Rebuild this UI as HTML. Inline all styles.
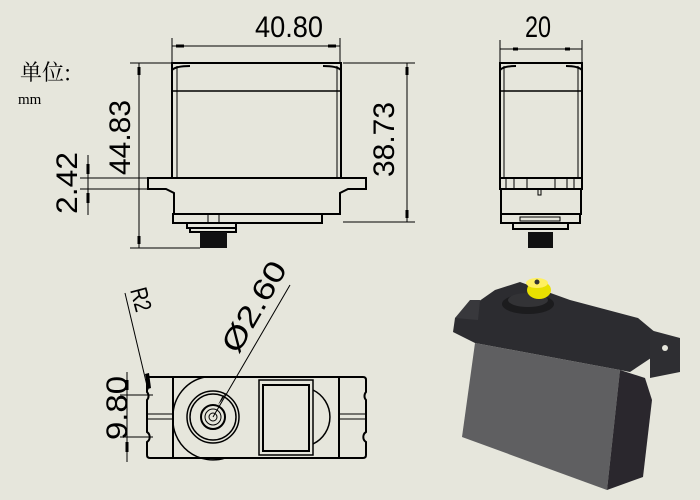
<!DOCTYPE html>
<html><head><meta charset="utf-8"><style>
html,body{margin:0;padding:0;background:#e6e6dc;}
svg{display:block}
text{font-family:"DejaVu Sans ExtraLight","Liberation Sans Narrow","Liberation Sans",sans-serif;font-weight:200;fill:#000}
</style></head><body>
<svg width="700" height="500" viewBox="0 0 700 500" xmlns="http://www.w3.org/2000/svg">
<rect width="700" height="500" fill="#e6e6dc"/>
<g stroke="#000" fill="none">
<!-- front view -->
<g stroke-width="2">
<rect x="172" y="63" width="169" height="115"/>
<line x1="172" y1="91" x2="341" y2="91" stroke-width="1.5"/>
<path d="M148 178 H366 V189 H348 L340 193 V214 H174 V193 L166 189 H148 Z"/>
<rect x="173" y="214" width="149" height="9"/>
<rect x="187" y="223" width="49" height="5"/>
<rect x="190" y="228" width="46" height="4"/>
</g>
<line x1="177" y1="66" x2="177" y2="178" stroke-width="1"/>
<line x1="337" y1="66" x2="337" y2="178" stroke-width="1"/>
<path d="M172 70 Q176 66 190 66 M341 70 Q337 66 323 66" stroke-width="2"/>
<line x1="208" y1="214" x2="208" y2="223"/><line x1="219" y1="214" x2="219" y2="223"/>
<rect x="200" y="232" width="27" height="16" fill="#111" stroke="none"/>
<g stroke-width="1">
<line x1="172" y1="38" x2="172" y2="63"/><line x1="340" y1="38" x2="340" y2="63"/>
<line x1="172" y1="46" x2="340" y2="46"/>
<line x1="343" y1="63" x2="415" y2="63"/><line x1="343" y1="222" x2="415" y2="222"/>
<line x1="407" y1="63" x2="407" y2="222"/>
<line x1="130" y1="63" x2="172" y2="63"/><line x1="130" y1="248" x2="200" y2="248"/>
<line x1="139" y1="63" x2="139" y2="248"/>
<line x1="80" y1="178" x2="148" y2="178"/><line x1="80" y1="189" x2="148" y2="189"/>
<line x1="88" y1="155" x2="88" y2="215"/>
</g>
<g fill="#000" stroke="none">
<rect x="176" y="44.5" width="8" height="3"/><rect x="328" y="44.5" width="8" height="3"/>
<rect x="405.5" y="67" width="3" height="8"/><rect x="405.5" y="210" width="3" height="8"/>
<rect x="137.5" y="67" width="3" height="8"/><rect x="137.5" y="236" width="3" height="8"/>
<rect x="86.5" y="164" width="3" height="10"/><rect x="86.5" y="193" width="3" height="10"/>
</g>
<!-- side view -->
<g stroke-width="2">
<rect x="500" y="63" width="82" height="115"/>
<line x1="500" y1="91" x2="582" y2="91" stroke-width="1.5"/>
<rect x="500" y="178" width="82" height="11"/>
<rect x="501" y="189" width="80" height="25"/>
<rect x="501" y="214" width="79" height="9"/>
<rect x="513" y="223" width="55" height="6"/>
</g>
<line x1="504" y1="66" x2="504" y2="178"/><line x1="578" y1="66" x2="578" y2="178"/>
<path d="M500 70 Q504 66 516 66 M582 70 Q578 66 566 66" stroke-width="2"/>
<path d="M506 178v11M514 178v11M527 178v11M555 178v11M567 178v11M574 178v11"/>
<path d="M538 189v6h3v-6"/>
<rect x="520" y="217" width="40" height="4"/>
<rect x="528" y="232" width="25" height="16" fill="#111" stroke="none"/>
<g stroke-width="1">
<line x1="500" y1="40" x2="500" y2="63"/><line x1="582" y1="40" x2="582" y2="63"/>
<line x1="500" y1="49" x2="582" y2="49"/>
</g>
<g fill="#000" stroke="none"><rect x="513" y="47.5" width="5" height="3"/><rect x="565" y="47.5" width="5" height="3"/></g>
<!-- bottom view -->
<g stroke-width="2">
<path d="M150 377 H363 Q366 377 366 380 V392 A6 6 0 0 0 366 400 V432 A6 6 0 0 0 366 442 V455 Q366 458 363 458 H150 Q147 458 147 455 V442 A6 6 0 0 0 147 432 V400 A6 6 0 0 0 147 392 V380 Q147 377 150 377 Z"/>
<line x1="173" y1="377" x2="173" y2="458"/><line x1="339" y1="377" x2="339" y2="458"/>
<circle cx="213" cy="417" r="26" stroke-width="1.5"/>
<circle cx="213" cy="417" r="23" stroke-width="1.5"/>
<rect x="259" y="380" width="54" height="75" stroke-width="1.5"/>
<rect x="263" y="385" width="46" height="66"/>
</g>
<path d="M173 417 A40 40 0 0 1 205 377 M173 417 A40 40 0 0 0 225 458" stroke-width="1.5"/>
<path d="M313 390 A30 30 0 0 1 313 444" stroke-width="1.5"/>
<path d="M147 414 H173 M147 419 H173 M339 414 H366 M339 419 H366"/>
<circle cx="213" cy="417" r="12" stroke-width="2"/>
<circle cx="213" cy="417" r="8"/>
<circle cx="213" cy="417" r="4"/>
<g stroke-width="1">
<line x1="125" y1="293" x2="148" y2="390"/>
<line x1="290" y1="285" x2="213" y2="417"/>
<line x1="120" y1="395" x2="153" y2="395"/><line x1="120" y1="437" x2="153" y2="437"/>
<line x1="127" y1="372" x2="127" y2="462"/>
</g>
<g fill="#000" stroke="none">
<rect x="125.5" y="380" width="3" height="10"/><rect x="125.5" y="442" width="3" height="10"/>
<polygon points="145,374 149,373 151,388 148,389"/>
<polygon points="218,405 222,400 226,393 222,397"/>
</g>
<!-- 3D -->
<g stroke="none">
<polygon points="455,318 495,290 520,282 570,300 638,318 662,338 660,352 630,372 620,370 475,343 453,332" fill="#2c2c30"/>
<polygon points="475,343 620,370 607,490 462,437" fill="#5f5f61"/>
<polygon points="620,370 645,378 652,400 643,477 607,490" fill="#2a272d"/>
<polygon points="650,330 680,338 680,372 650,378" fill="#2e2e32"/>
<polygon points="455,318 470,300 480,300 478,320" fill="#38383c"/>
<ellipse cx="528" cy="304" rx="26" ry="10" fill="#1c1c1e"/>
<ellipse cx="528" cy="300" rx="20" ry="7" fill="#333336"/>
<ellipse cx="539" cy="290" rx="12" ry="9" fill="#e8e000"/>
<ellipse cx="537" cy="283" rx="11" ry="5" fill="#fff060"/>
<circle cx="537" cy="282" r="2.5" fill="#333"/>
<circle cx="665" cy="348" r="3" fill="#e6e6dc"/>
</g>
</g>
<text x="255" y="37" font-size="30" textLength="68" lengthAdjust="spacingAndGlyphs">40.80</text>
<text x="525" y="37" font-size="30" textLength="26" lengthAdjust="spacingAndGlyphs">20</text>
<text transform="translate(394,177) rotate(-90)" font-size="30" textLength="75" lengthAdjust="spacingAndGlyphs">38.73</text>
<text transform="translate(130,175) rotate(-90)" font-size="30" textLength="75" lengthAdjust="spacingAndGlyphs">44.83</text>
<text transform="translate(77,214) rotate(-90)" font-size="30" textLength="62" lengthAdjust="spacingAndGlyphs">2.42</text>
<text transform="translate(127,440) rotate(-90)" font-size="30" textLength="64" lengthAdjust="spacingAndGlyphs">9.80</text>
<text transform="translate(130,290) rotate(75)" font-size="24" textLength="24" lengthAdjust="spacingAndGlyphs">R2</text>
<text transform="translate(238,355) rotate(-60)" font-size="30" textLength="100" lengthAdjust="spacingAndGlyphs">Ø2.60</text>
<text x="20" y="80" font-size="22" style="font-family:'Noto Serif CJK SC','Liberation Serif',serif;font-weight:400">单位:</text>
<text x="18" y="104" font-size="15" style="font-family:'Liberation Serif',serif;font-weight:400">mm</text>
</svg>
</body></html>
